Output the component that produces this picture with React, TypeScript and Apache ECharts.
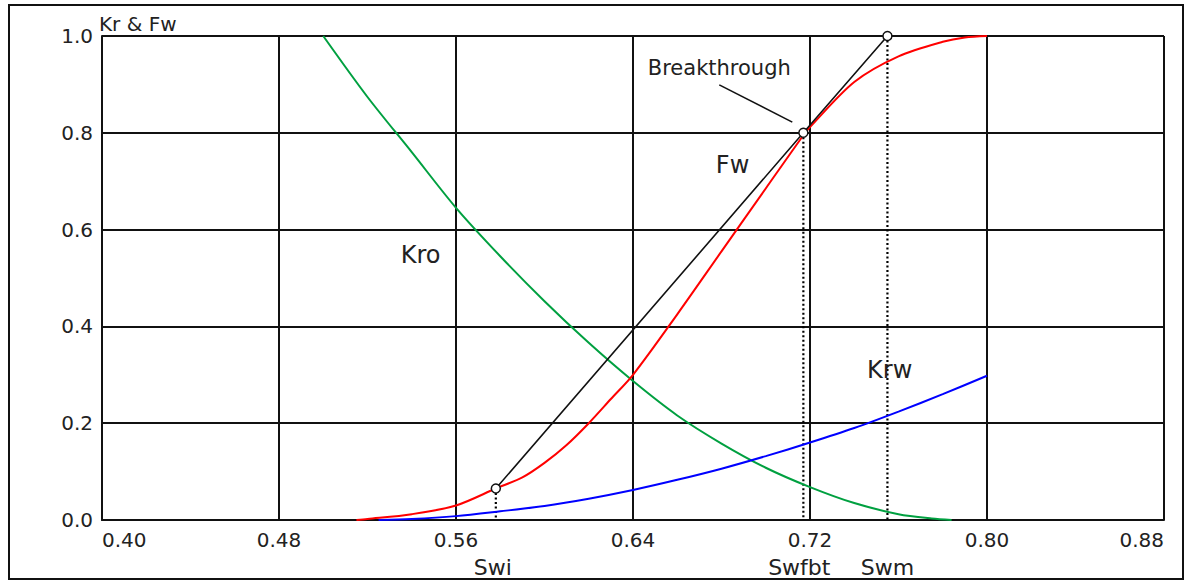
import React, { useEffect, useRef } from "react";
import * as echarts from "echarts";

// Water saturation values and curves
const xKro = [0.50, 0.52, 0.54, 0.56, 0.58, 0.60, 0.62, 0.64, 0.66, 0.68, 0.70, 0.72, 0.74, 0.76, 0.775, 0.784];
const kro = [1.0, 0.874, 0.76, 0.645, 0.545, 0.452, 0.366, 0.287, 0.216, 0.158, 0.108, 0.068, 0.035, 0.012, 0.003, 0.0];

const xKrw = [0.525, 0.54, 0.56, 0.58, 0.60, 0.62, 0.64, 0.66, 0.68, 0.70, 0.72, 0.74, 0.76, 0.78, 0.80];
const krw = [0.0, 0.002, 0.008, 0.018, 0.029, 0.044, 0.062, 0.083, 0.106, 0.132, 0.16, 0.19, 0.224, 0.26, 0.298];

const xFw = [0.515, 0.52, 0.54, 0.56, 0.578, 0.59, 0.60, 0.61, 0.62, 0.63, 0.64, 0.66, 0.68, 0.70, 0.717, 0.72, 0.74, 0.76, 0.78, 0.79, 0.80];
const fw = [0.0, 0.002, 0.012, 0.03, 0.065, 0.088, 0.118, 0.155, 0.2, 0.25, 0.3, 0.425, 0.555, 0.685, 0.795, 0.812, 0.905, 0.958, 0.988, 0.997, 1.0];

// Welge tangent: Swi, Swfbt (breakthrough), Swm
const tangentX = [0.578, 0.717, 0.755];
const tangentY = [0.065, 0.8, 1.0];

// Breakthrough leader line
const leaderX = [0.679, 0.712];
const leaderY = [0.899, 0.822];

const xTicks = { min: 0.4, max: 0.88, step: 0.08 };
const yTicks = { min: 0, max: 1, step: 0.2 };

// In-plot labels (data coordinates)
const labelTexts = ["Kro", "Fw", "Krw", "Breakthrough"];
const labelX = [0.544, 0.685, 0.756, 0.679];
const labelY = [0.548, 0.733, 0.31, 0.934];
const labelSizes = [24, 24, 24, 21];

// Labels under the x axis
const satNames = ["Swi", "Swfbt", "Swm"];
const satX = [0.578, 0.712, 0.755];
const satShift = [-3, 7, 0];

const FONT = "DejaVu Sans";

export default function App() {
  const ref = useRef<HTMLDivElement>(null);
  useEffect(() => {
    if (!ref.current) return;
    const chart = echarts.init(ref.current, null, { renderer: "svg" });
    const zip = (xs: number[], ys: number[]) => xs.map((x, i) => [x, ys[i]]);
    const dotted = (i: number) => ({
      type: "line",
      data: [[tangentX[i], tangentY[i]], [tangentX[i], 0]],
      showSymbol: false,
      symbol: "none",
      lineStyle: { color: "#000", width: 2.2, type: [2, 2.5] },
      z: 3,
    });
    const option: any = {
      animation: false,
      backgroundColor: "#fff",
      grid: { left: 102, right: 22, top: 36, bottom: 61, show: false },
      xAxis: {
        type: "value",
        min: xTicks.min,
        max: xTicks.max,
        interval: xTicks.step,
        axisLine: { show: true, lineStyle: { color: "#111", width: 2 } },
        axisTick: { show: false },
        splitLine: { show: true, lineStyle: { color: "#111", width: 2 } },
        axisLabel: {
          formatter: (v: number) => v.toFixed(2),
          color: "#222",
          fontFamily: FONT,
          fontSize: 20,
          margin: 10,
          alignMinLabel: "left",
          alignMaxLabel: "right",
        },
      },
      yAxis: {
        type: "value",
        min: yTicks.min,
        max: yTicks.max,
        interval: yTicks.step,
        axisLine: { show: true, lineStyle: { color: "#111", width: 2 } },
        axisTick: { show: false },
        splitLine: { show: true, lineStyle: { color: "#111", width: 2 } },
        axisLabel: {
          formatter: (v: number) => v.toFixed(1),
          color: "#222",
          fontFamily: FONT,
          fontSize: 20,
          margin: 9,
        },
      },
      series: [
        {
          type: "line",
          name: "Kro",
          data: zip(xKro, kro),
          smooth: 0.3,
          showSymbol: false,
          symbol: "none",
          lineStyle: { color: "#00a040", width: 2 },
          z: 4,
        },
        {
          type: "line",
          name: "Krw",
          data: zip(xKrw, krw),
          smooth: 0.3,
          showSymbol: false,
          symbol: "none",
          lineStyle: { color: "#0000ff", width: 2 },
          z: 4,
        },
        {
          type: "line",
          name: "Fw",
          data: zip(xFw, fw),
          smooth: 0.3,
          showSymbol: false,
          symbol: "none",
          lineStyle: { color: "#ff0000", width: 2 },
          z: 5,
        },
        dotted(0),
        dotted(1),
        dotted(2),
        {
          type: "line",
          name: "tangent",
          data: zip(tangentX, tangentY),
          symbol: "circle",
          symbolSize: 9,
          showSymbol: true,
          itemStyle: { color: "#fff", borderColor: "#111", borderWidth: 1.5 },
          lineStyle: { color: "#111", width: 1.6 },
          z: 6,
        },
        {
          type: "line",
          name: "leader",
          data: zip(leaderX, leaderY),
          symbol: "none",
          showSymbol: false,
          lineStyle: { color: "#111", width: 1.6 },
          z: 6,
        },
      ],
    };
    chart.setOption(option);
    const graphics: any[] = [
      {
        type: "rect",
        shape: { x: 9, y: 5, width: 1174, height: 574 },
        style: { fill: "none", stroke: "#111", lineWidth: 2 },
        z: 100,
      },
      {
        type: "text",
        x: 99,
        y: 24,
        style: {
          text: "Kr & Fw",
          fill: "#222",
          font: `20px "${FONT}"`,
          align: "left",
          verticalAlign: "middle",
        },
        z: 50,
      },
    ];
    labelTexts.forEach((t, i) => {
      const p = chart.convertToPixel({ gridIndex: 0 }, [labelX[i], labelY[i]]) as number[];
      graphics.push({
        type: "text",
        x: p[0],
        y: p[1],
        style: {
          text: t,
          fill: "#222",
          font: `${labelSizes[i]}px "${FONT}"`,
          align: "center",
          verticalAlign: "middle",
        },
        z: 50,
      });
    });
    satNames.forEach((t, i) => {
      const p = chart.convertToPixel({ gridIndex: 0 }, [satX[i], 0]) as number[];
      graphics.push({
        type: "text",
        x: p[0] + satShift[i],
        y: 567,
        style: {
          text: t,
          fill: "#222",
          font: `22px "${FONT}"`,
          align: "center",
          verticalAlign: "middle",
        },
        z: 50,
      });
    });
    chart.setOption({ graphic: graphics });
    return () => chart.dispose();
  }, []);
  return (
    <div
      ref={ref}
      style={{ position: "fixed", left: 0, top: 0, width: 1186, height: 581, background: "#fff" }}
    />
  );
}
